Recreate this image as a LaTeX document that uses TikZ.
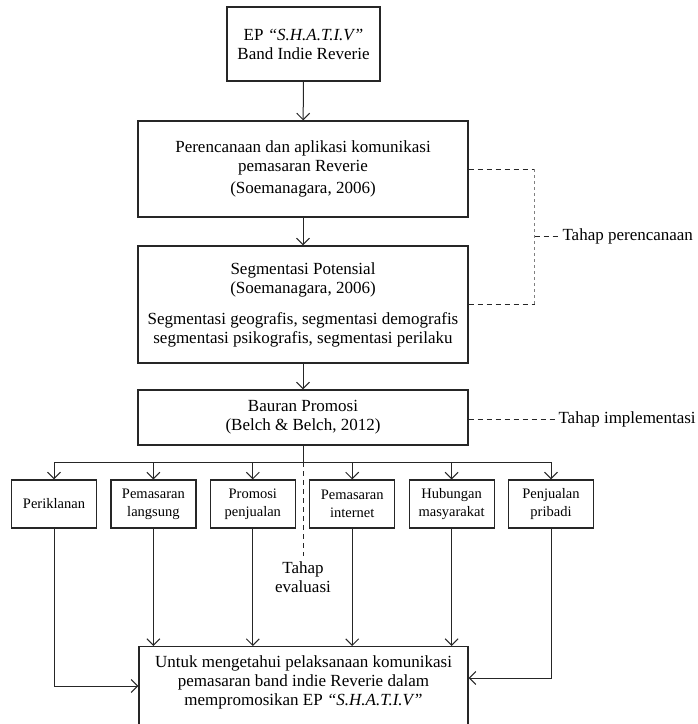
\documentclass[tikz,border=0pt]{standalone}
\usepackage{fontspec}
\setmainfont{Liberation Serif}
\usetikzlibrary{arrows.meta}

\tikzset{
	bigbox/.style={draw=black!85, line width=1.2pt, align=center, minimum width=330pt, inner sep=2pt, font=\fontsize{17}{19}\selectfont},
	mixbox/.style={draw=black!85, line width=1.2pt, align=center, minimum width=85pt, minimum height=48pt, inner sep=1pt, font=\fontsize{14.5}{18}\selectfont},
	stage/.style={align=center, inner sep=2pt, font=\fontsize{17}{19}\selectfont},
	stagedash/.style={draw=black!85, line width=1pt, dash pattern=on 5pt off 4pt}
}

\begin{document}
\begin{tikzpicture}[x=1pt, y=-1pt, >={Straight Barb[length=6.5pt,width=13pt]}, line width=1pt, draw=black!85]
		\useasboundingbox (0,0) rectangle (698,724);
		% main boxes
		\node[bigbox, minimum width=153pt, minimum height=74pt] (ep) at (303.5,44) {EP \textit{“S.H.A.T.I.V”}\\Band Indie Reverie};
		\node[bigbox, minimum height=96pt] (plan) at (303,169) {Perencanaan dan aplikasi komunikasi\\pemasaran Reverie\\[3pt](Soemanagara, 2006)};
		\node[bigbox, minimum height=117pt] (seg) at (303,304.5) {Segmentasi Potensial\\(Soemanagara, 2006)\\[12pt]Segmentasi geografis, segmentasi demografis\\segmentasi psikografis, segmentasi perilaku};
		\node[bigbox, minimum height=55pt] (bauran) at (303,417.5) {Bauran Promosi\\(Belch \& Belch, 2012)};
		\draw[->] (ep) -- (plan);
		\draw[->] (plan) -- (seg);
		\draw[->] (seg) -- (bauran);
		% elements of the promotion mix
		\foreach \n/\x/\t in {1/54/Periklanan, 2/153.4/{Pemasaran\\langsung}, 3/252.8/{Promosi\\penjualan}, 4/352.2/{Pemasaran\\internet}, 5/451.6/{Hubungan\\masyarakat}, 6/551/{Penjualan\\pribadi}}
		{
			\node[mixbox] (m\n) at (\x,504) {\t};
		}
		% bus from Bauran Promosi
		\coordinate (bus) at (303,462);
		\draw (bauran.south) -- (bus);
		\draw (m1.north |- bus) -- (m6.north |- bus);
		\foreach \n in {1,...,6}
		{
			\draw[->] (m\n.north |- bus) -- (m\n.north);
		}
		% goal box
		\node[bigbox, minimum width=329pt, anchor=north, inner ysep=9pt, text depth=40pt] (goal) at (303.5,646) {Untuk mengetahui pelaksanaan komunikasi\\pemasaran band indie Reverie dalam\\mempromosikan EP \textit{“S.H.A.T.I.V”}};
		\foreach \n in {2,...,5}
		{
			\draw[->] (m\n.south) -- (m\n.south |- goal.north);
		}
		\draw[->] (m1.south) |- ([yshift=-40pt]goal.north west);
		\draw[->] (m6.south) |- ([yshift=-32pt]goal.north east);
		% stages
		\draw[stagedash] (plan.east) -- ++(66,0) coordinate (bt);
		\draw[stagedash] (seg.east) -- ++(66,0) coordinate (bb);
		\draw[dashed, gray, line width=0.6pt] (bt) -- (bb);
		\node[stage, anchor=west] (perenc) at (560,236.5) {Tahap perencanaan};
		\draw[stagedash] (bt |- perenc.west) -- (perenc.west);
		\node[stage, anchor=west] (impl) at (556,419) {Tahap implementasi};
		\draw[stagedash] (bauran.east |- impl.west) -- (impl.west);
		\node[stage, anchor=north, inner ysep=5pt] (eval) at (303,556) {Tahap\\evaluasi};
		\draw[stagedash] (bus) -- (eval.north);
	\end{tikzpicture}
\end{document}
